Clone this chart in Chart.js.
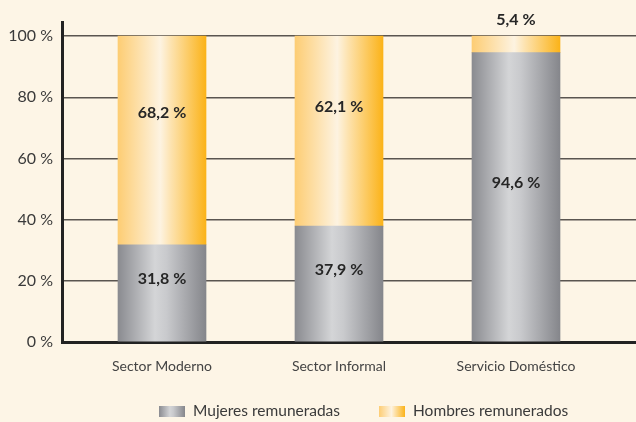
<!DOCTYPE html>
<html>
<head>
<meta charset="utf-8">
<script src="https://cdn.jsdelivr.net/npm/chart.js@4"></script>
<style>
  html, body { margin: 0; padding: 0; background: #fdf5e6; }
  #wrap { width: 636px; height: 422px; }
</style>
</head>
<body>
<div id="wrap"><canvas id="grafico"></canvas></div>
<script>
// datos del gráfico
var categorias = ['Sector Moderno', 'Sector Informal', 'Servicio Doméstico'];
var mujeres = [31.8, 37.9, 94.6];
var hombres = [68.2, 62.1, 5.4];
var series = ['Mujeres remuneradas', 'Hombres remunerados'];
var ticksY = [0, 20, 40, 60, 80, 100];

var ANCHO_BARRA = 88;
var X_MIN = -0.565, X_MAX = 2.678;
var stopsGris = [[0, '#8a8b90'], [0.42, '#d4d5d7'], [0.55, '#c9cacd'], [1, '#85868b']];
var stopsAmarillo = [[0, '#fdcd74'], [0.48, '#fdf3e1'], [0.6, '#fde3b0'], [1, '#fbb319']];

function degradado(ctx, x0, x1, stops) {
	var g = ctx.createLinearGradient(x0, 0, x1, 0);
	stops.forEach(function(s) { g.addColorStop(s[0], s[1]); });
	return g;
}

function rellenoBarra(stops) {
	return function(c) {
		var chart = c.chart;
		if (!chart.chartArea || !chart.scales.x) return stops[1][1];
		var cx = chart.scales.x.getPixelForValue(c.dataIndex);
		return degradado(chart.ctx, cx - ANCHO_BARRA / 2, cx + ANCHO_BARRA / 2, stops);
	};
}

function formato(v) {
	return v.toFixed(1).replace('.', ',') + ' %';
}

// etiquetas de valores sobre las barras
var etiquetas = {
	id: 'etiquetas',
	afterDatasetsDraw: function(chart) {
		var ctx = chart.ctx;
		ctx.save();
		ctx.font = 'bold 16px Lato';
		ctx.fillStyle = '#262626';
		ctx.textAlign = 'center';
		ctx.textBaseline = 'middle';
		chart.data.datasets.forEach(function(ds, i) {
			var meta = chart.getDatasetMeta(i);
			meta.data.forEach(function(bar, j) {
				var alto = bar.base - bar.y;
				var y;
				if (alto < 30) y = bar.y - 16;
				else if (i === 0) y = (bar.y + bar.base) / 2 - 14;
				else y = bar.base - alto * 0.63;
				ctx.fillText(formato(ds.data[j].y), bar.x, y);
			});
		});
		ctx.restore();
	}
};

// leyenda dibujada a mano
var leyenda = {
	id: 'leyenda',
	afterDraw: function(chart) {
		var ctx = chart.ctx;
		var posiciones = [159, 379];
		var rellenos = [stopsGris, stopsAmarillo];
		ctx.save();
		ctx.font = '15.5px Lato';
		ctx.textBaseline = 'middle';
		chart.data.datasets.forEach(function(ds, i) {
			var x = posiciones[i];
			ctx.fillStyle = degradado(ctx, x, x + 26, rellenos[i]);
			ctx.fillRect(x, 406, 26, 11);
			ctx.fillStyle = '#3a3a3a';
			ctx.fillText(ds.label, x + 34, 411);
		});
		ctx.restore();
	}
};

var chartArea = document.getElementById('grafico').getContext('2d');
var myChart = new Chart(chartArea, {
	type: 'bar',
	data: {
		datasets: [{
			label: series[0],
			data: categorias.map(function(c, i) { return { x: i, y: mujeres[i] }; }),
			backgroundColor: rellenoBarra(stopsGris),
			barThickness: ANCHO_BARRA
		}, {
			label: series[1],
			data: categorias.map(function(c, i) { return { x: i, y: hombres[i] }; }),
			backgroundColor: rellenoBarra(stopsAmarillo),
			barThickness: ANCHO_BARRA
		}]
	},
	options: {
		responsive: true,
		maintainAspectRatio: false,
		animation: false,
		layout: { padding: { top: 22, right: 0, left: 0, bottom: 0 } },
		plugins: {
			legend: { display: false },
			tooltip: { enabled: false }
		},
		scales: {
			x: {
				type: 'linear',
				stacked: true,
				offset: false,
				bounds: 'data',
				min: X_MIN,
				max: X_MAX,
				afterDataLimits: function(scale) {
					scale.min = X_MIN;
					scale.max = X_MAX;
				},
				afterBuildTicks: function(scale) {
					scale.ticks = categorias.map(function(c, i) { return { value: i }; });
				},
				afterFit: function(scale) { scale.height = 80; },
				grid: { display: false, drawTicks: false },
				border: { display: true, color: '#222', width: 3 },
				ticks: {
					padding: 16,
					maxRotation: 0,
					autoSkip: false,
					color: '#444',
					font: { family: 'Lato', size: 14 },
					callback: function(v) { return categorias[v]; }
				}
			},
			y: {
				stacked: true,
				min: 0,
				max: 104.6,
				afterBuildTicks: function(scale) {
					scale.ticks = ticksY.map(function(v) { return { value: v }; });
				},
				afterFit: function(scale) { scale.width = 62; },
				grid: { color: '#5a5550', lineWidth: 1.5, drawTicks: false },
				border: { display: true, color: '#222', width: 3 },
				ticks: {
					padding: 9,
					color: '#3a3a3a',
					font: { family: 'Lato', size: 16 },
					callback: function(v) { return v + ' %'; }
				}
			}
		}
	},
	plugins: [etiquetas, leyenda]
});
</script>
</body>
</html>
